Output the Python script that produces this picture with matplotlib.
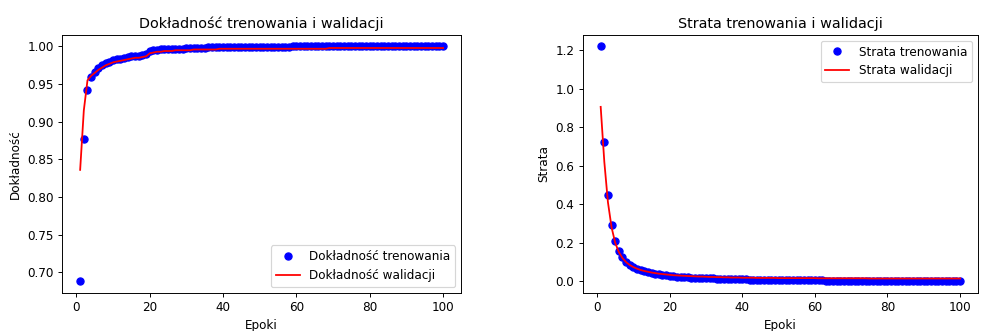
import matplotlib
matplotlib.use("Agg")
import matplotlib.pyplot as plt

train_acc = [0.688, 0.877, 0.942, 0.959, 0.966, 0.971, 0.975, 0.978, 0.980, 0.982,
             0.983, 0.984, 0.985, 0.986, 0.987, 0.988, 0.988, 0.989, 0.990, 0.994,
             0.995, 0.995, 0.996, 0.996, 0.996, 0.997, 0.997, 0.997, 0.997, 0.998,
             0.998, 0.998, 0.998, 0.998, 0.998, 0.999, 0.999, 0.999, 0.999, 0.999,
             0.999, 0.999, 0.999, 0.999, 0.999, 0.999, 0.999, 0.999, 0.999, 0.999,
             0.999, 0.999, 0.999, 0.999, 0.999, 0.999, 0.999, 0.999, 1.000, 1.000,
             1.000, 1.000, 1.000, 1.000, 1.000, 1.000, 1.000, 1.000, 1.000, 1.000,
             1.000, 1.000, 1.000, 1.000, 1.000, 1.000, 1.000, 1.000, 1.000, 1.000,
             1.000, 1.000, 1.000, 1.000, 1.000, 1.000, 1.000, 1.000, 1.000, 1.000,
             1.000, 1.000, 1.000, 1.000, 1.000, 1.000, 1.000, 1.000, 1.000, 1.000]

val_acc = [0.836, 0.915, 0.955, 0.961, 0.965, 0.969, 0.972, 0.975, 0.977, 0.979,
           0.980, 0.981, 0.982, 0.983, 0.984, 0.985, 0.985, 0.986, 0.987, 0.991,
           0.992, 0.993, 0.993, 0.994, 0.994, 0.994, 0.995, 0.995, 0.995, 0.995,
           0.995, 0.996, 0.996, 0.996, 0.996, 0.996, 0.996, 0.996, 0.997, 0.997,
           0.997, 0.997, 0.997, 0.997, 0.997, 0.997, 0.997, 0.997, 0.997, 0.997,
           0.997, 0.997, 0.997, 0.997, 0.997, 0.997, 0.997, 0.997, 0.997, 0.997,
           0.997, 0.997, 0.997, 0.997, 0.997, 0.997, 0.997, 0.997, 0.998, 0.998,
           0.998, 0.998, 0.998, 0.998, 0.998, 0.998, 0.998, 0.998, 0.998, 0.998,
           0.998, 0.998, 0.998, 0.998, 0.998, 0.998, 0.998, 0.998, 0.998, 0.998,
           0.998, 0.998, 0.998, 0.998, 0.998, 0.998, 0.998, 0.998, 0.998, 0.998]

train_loss = [1.218, 0.722, 0.448, 0.292, 0.208, 0.158, 0.124, 0.102, 0.086, 0.074,
              0.065, 0.058, 0.052, 0.047, 0.043, 0.040, 0.037, 0.034, 0.032, 0.029,
              0.027, 0.025, 0.024, 0.022, 0.021, 0.020, 0.019, 0.018, 0.017, 0.016,
              0.015, 0.015, 0.014, 0.013, 0.013, 0.012, 0.012, 0.011, 0.011, 0.010,
              0.010, 0.009, 0.009, 0.009, 0.008, 0.008, 0.008, 0.007, 0.007, 0.007,
              0.007, 0.006, 0.006, 0.006, 0.006, 0.006, 0.005, 0.005, 0.005, 0.005,
              0.005, 0.005, 0.004, 0.004, 0.004, 0.004, 0.004, 0.004, 0.004, 0.003,
              0.003, 0.003, 0.003, 0.003, 0.003, 0.003, 0.003, 0.003, 0.003, 0.003,
              0.002, 0.002, 0.002, 0.002, 0.002, 0.002, 0.002, 0.002, 0.002, 0.002,
              0.002, 0.002, 0.002, 0.002, 0.001, 0.001, 0.001, 0.001, 0.001, 0.001]

val_loss = [0.905, 0.620, 0.410, 0.280, 0.200, 0.152, 0.121, 0.100, 0.085, 0.074,
            0.066, 0.059, 0.054, 0.050, 0.046, 0.043, 0.040, 0.038, 0.036, 0.034,
            0.032, 0.031, 0.030, 0.029, 0.028, 0.027, 0.026, 0.025, 0.025, 0.024,
            0.023, 0.023, 0.022, 0.022, 0.021, 0.021, 0.020, 0.020, 0.020, 0.019,
            0.019, 0.019, 0.019, 0.018, 0.018, 0.018, 0.018, 0.018, 0.018, 0.017,
            0.017, 0.017, 0.017, 0.017, 0.017, 0.017, 0.017, 0.017, 0.017, 0.017,
            0.016, 0.016, 0.016, 0.016, 0.016, 0.016, 0.016, 0.016, 0.016, 0.016,
            0.016, 0.016, 0.016, 0.016, 0.015, 0.015, 0.015, 0.015, 0.015, 0.015,
            0.015, 0.015, 0.015, 0.015, 0.015, 0.015, 0.015, 0.015, 0.015, 0.015,
            0.015, 0.015, 0.015, 0.015, 0.015, 0.015, 0.015, 0.015, 0.015, 0.015]

epochs = list(range(1, len(train_acc) + 1))

dpi = 86
fig = plt.figure(figsize=(981 / dpi, 331 / dpi), dpi=dpi)

# accuracy
ax1 = fig.add_axes([0.0632, 0.115, 0.407, 0.780])
ax1.plot(epochs, train_acc, 'bo', label='Dokładność trenowania')
ax1.plot(epochs, val_acc, 'r', label='Dokładność walidacji')
ax1.set_title('Dokładność trenowania i walidacji')
ax1.set_xlabel('Epoki')
ax1.set_ylabel('Dokładność')
ax1.legend(loc='lower right')

# loss
ax2 = fig.add_axes([0.594, 0.115, 0.403, 0.780])
ax2.plot(epochs, train_loss, 'bo', label='Strata trenowania')
ax2.plot(epochs, val_loss, 'r', label='Strata walidacji')
ax2.set_title('Strata trenowania i walidacji')
ax2.set_xlabel('Epoki')
ax2.set_ylabel('Strata')
ax2.legend(loc='upper right')

plt.savefig('out.png', dpi=dpi)
